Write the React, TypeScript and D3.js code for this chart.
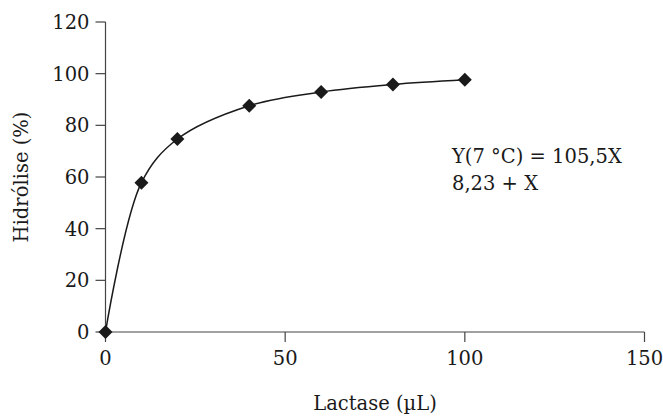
import React from "react";
import * as d3 from "d3";

// data
const lactase = [0, 10, 20, 40, 60, 80, 100];
const hidrolise = [0, 57.8, 74.7, 87.6, 92.9, 95.8, 97.6];
const xTicks = [0, 50, 100, 150];
const yTicks = [0, 20, 40, 60, 80, 100, 120];
const equationLines = ["Y(7 °C) = 105,5X", "8,23 + X"];

const width = 663;
const height = 417;
const margin = { left: 105.5, right: 18.5, top: 22, bottom: 85 };
const font = "'DejaVu Serif', serif";
const ink = "#1a1a1a";
const fs = 19.5;

export default function App() {
  const x = d3
    .scaleLinear()
    .domain([0, 150])
    .range([margin.left, width - margin.right]);
  const y = d3
    .scaleLinear()
    .domain([0, 120])
    .range([height - margin.bottom, margin.top]);

  const pts = lactase.map((v, i) => [x(v), y(hidrolise[i])] as [number, number]);
  const line = d3.line().curve(d3.curveCatmullRom.alpha(0.5));
  const diamond = d3.symbol(d3.symbolSquare, 98)();

  const y0 = y(0);

  return (
    <svg
      width={width}
      height={height}
      style={{ position: "absolute", left: 0, top: 0, background: "#fff" }}
      fontFamily={font}
    >
      {/* y axis */}
      <line x1={x(0)} x2={x(0)} y1={y(120)} y2={y0} stroke="#444" strokeWidth={1.2} />
      {yTicks.map(t => (
        <g key={"y" + t}>
          <line x1={x(0) - 10} x2={x(0)} y1={y(t)} y2={y(t)} stroke="#444" strokeWidth={1.2} />
          <text
            x={x(0) - 16}
            y={y(t)}
            dy="0.36em"
            textAnchor="end"
            fontSize={fs}
            fill={ink}
          >
            {t}
          </text>
        </g>
      ))}
      {/* x axis */}
      <line x1={x(0)} x2={x(150)} y1={y0} y2={y0} stroke="#444" strokeWidth={1.2} />
      {xTicks.map(t => (
        <g key={"x" + t}>
          <line x1={x(t)} x2={x(t)} y1={y0} y2={y0 + 10} stroke="#444" strokeWidth={1.2} />
          <text x={x(t)} y={y0 + 33} textAnchor="middle" fontSize={fs} fill={ink}>
            {t}
          </text>
        </g>
      ))}

      {/* curve + markers */}
      <path d={line(pts) || ""} fill="none" stroke={ink} strokeWidth={1.5} />
      {pts.map((p, i) => (
        <path
          key={i}
          d={diamond || ""}
          transform={`translate(${p[0]},${p[1]}) rotate(45)`}
          fill={ink}
        />
      ))}

      {/* labels */}
      <text
        x={(x(0) + x(150)) / 2}
        y={410}
        textAnchor="middle"
        fontSize={fs}
        fill={ink}
      >
        Lactase (µL)
      </text>
      <text
        transform={`translate(28,${(y(0) + y(120)) / 2}) rotate(-90)`}
        textAnchor="middle"
        fontSize={fs}
        fill={ink}
      >
        Hidrólise (%)
      </text>
      {equationLines.map((l, i) => (
        <text key={i} x={452} y={163 + i * 27} fontSize={fs} fill={ink}>
          {l}
        </text>
      ))}
    </svg>
  );
}
